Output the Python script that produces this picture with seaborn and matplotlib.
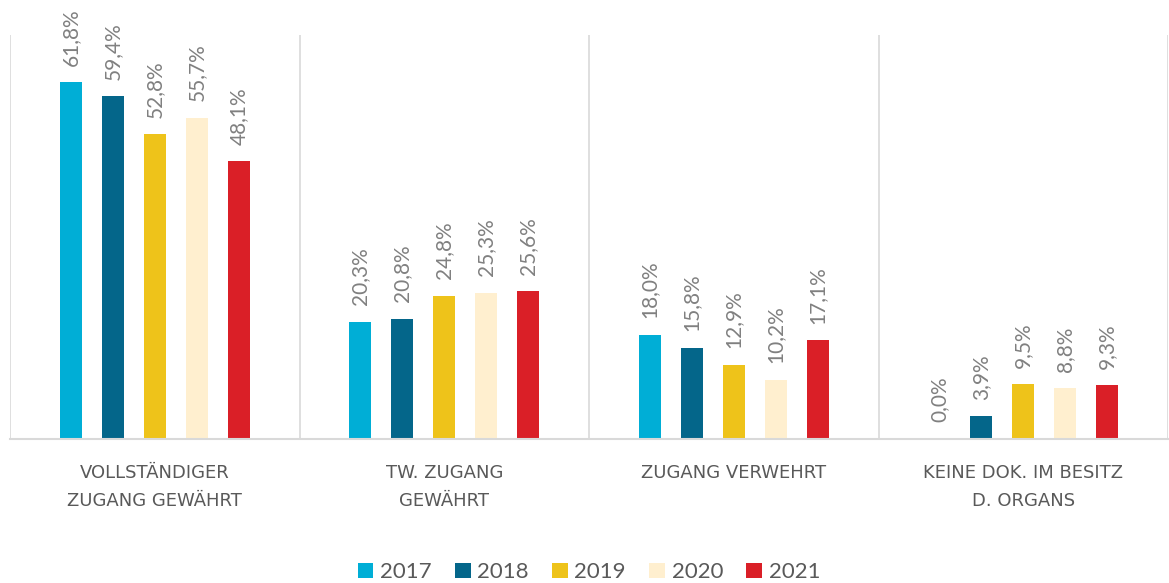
import matplotlib
matplotlib.use("Agg")
import matplotlib.pyplot as plt
import seaborn as sns
import pandas as pd
import numpy as np

categories = ["VOLLSTÄNDIGER\nZUGANG GEWÄHRT", "TW. ZUGANG\nGEWÄHRT", "ZUGANG VERWEHRT", "KEINE DOK. IM BESITZ\nD. ORGANS"]
years = ["2017", "2018", "2019", "2020", "2021"]
v2017 = [61.8, 20.3, 18.0, 0.0]
v2018 = [59.4, 20.8, 15.8, 3.9]
v2019 = [52.8, 24.8, 12.9, 9.5]
v2020 = [55.7, 25.3, 10.2, 8.8]
v2021 = [48.1, 25.6, 17.1, 9.3]
colors = ["#00AED6", "#04668A", "#EEC31A", "#FFEFCF", "#DA1F27"]

series = [v2017, v2018, v2019, v2020, v2021]
rows = []
for y, vals in zip(years, series):
    for c, v in zip(categories, vals):
        rows.append({"cat": c, "year": y, "val": v})
df = pd.DataFrame(rows)

sns.set_style("white")
plt.rcParams["font.family"] = ["Lato", "DejaVu Sans"]

fig = plt.figure(figsize=(11.69, 5.83), dpi=100)
ax = fig.add_axes([10/1169, 144/583, 1158/1169, 404/583])

sns.barplot(data=df, x="cat", y="val", hue="year", palette=colors,
            width=0.725, ax=ax, legend=True, saturation=1)

bar_w = 0.076
for p in ax.patches:
    if p.get_height() is None:
        continue
    cx = p.get_x() + p.get_width() / 2
    p.set_width(bar_w)
    p.set_x(cx - bar_w / 2)
    p.set_linewidth(0)

for cont in ax.containers:
    labels = [f"{v:.1f}%".replace(".", ",") for v in cont.datavalues]
    for rect, lab in zip(cont, labels):
        ax.annotate(lab, (rect.get_x() + rect.get_width() / 2, rect.get_height()),
                    xytext=(0, 12), textcoords="offset points", rotation=90,
                    ha="center", va="bottom", fontsize=15, color="#808080")

ax.set_xlim(-0.5, 3.5)
ax.set_ylim(0, 70)
ax.set_yticks([])
ax.set_xlabel("")
ax.set_ylabel("")
for x in [-0.5, 0.5, 1.5, 2.5, 3.5]:
    ax.axvline(x, color="#D9D9D9", lw=1.2, zorder=0)
for s in ["top", "left", "right"]:
    ax.spines[s].set_visible(False)
ax.spines["bottom"].set_color("#D9D9D9")
ax.spines["bottom"].set_linewidth(1.5)
ax.tick_params(axis="x", length=0, pad=18)
ax.set_xticks(range(4))
ax.set_xticklabels(categories, fontsize=13, color="#595959", linespacing=1.75,
                   family=["DejaVu Sans"])

handles, labs = ax.get_legend_handles_labels()
ax.legend(handles, labs, loc="center", bbox_to_anchor=(0.5, -0.33), ncol=5,
          frameon=False, fontsize=16, handlelength=0.7, handleheight=0.7,
          handletextpad=0.3, columnspacing=1.05, labelcolor="#595959")

fig.savefig("out.png", dpi=100)
